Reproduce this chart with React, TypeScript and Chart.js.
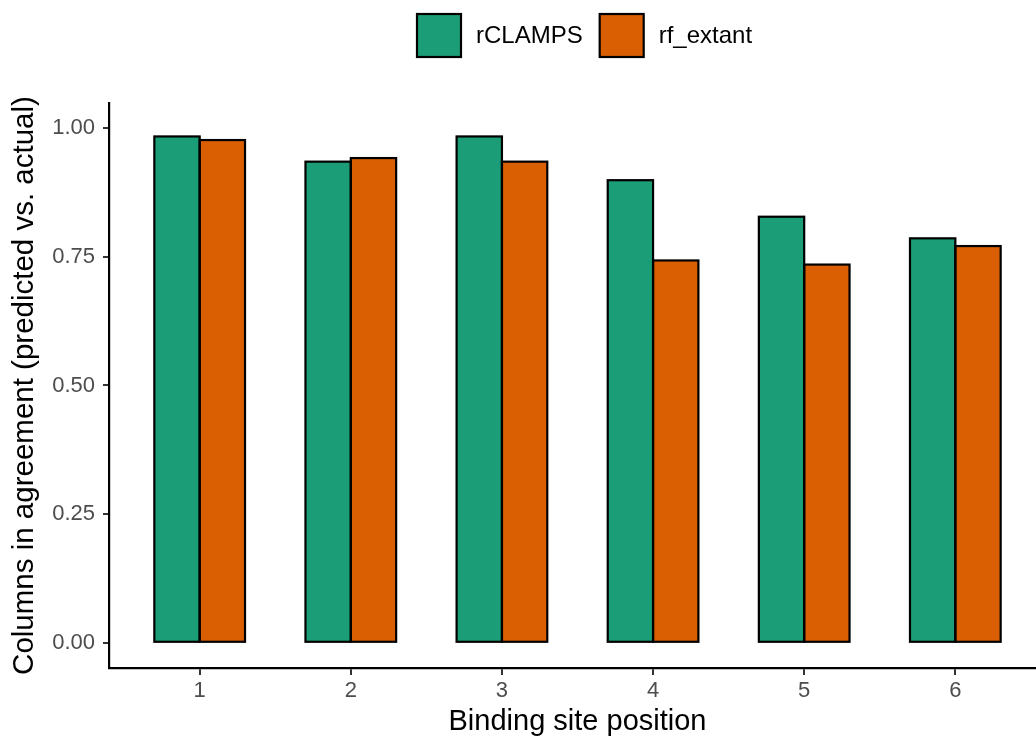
import React, { useEffect, useRef } from "react";
import { Chart, registerables } from "chart.js";

Chart.register(...registerables);

const positions = [1, 2, 3, 4, 5, 6];
const rCLAMPS = [0.984, 0.935, 0.984, 0.899, 0.828, 0.786];
const rfExtant = [0.977, 0.942, 0.935, 0.743, 0.735, 0.771];
const yTickValues = [0, 0.25, 0.5, 0.75, 1.0];
const seriesNames = ["rCLAMPS", "rf_extant"];
const seriesColors = ["#1B9E77", "#D95F02"];

const FONT = "'Liberation Sans', Arial, Helvetica, sans-serif";

const legendPlugin = {
  id: "ggLegend",
  afterDraw(chart: any) {
    const ctx = chart.ctx;
    ctx.save();
    ctx.font = `24px ${FONT}`;
    ctx.textBaseline = "middle";
    const boxW = 44;
    const boxH = 43;
    const top = 14;
    let x = 417;
    chart.data.datasets.forEach((ds: any) => {
      ctx.fillStyle = ds.backgroundColor;
      ctx.fillRect(x, top, boxW, boxH);
      ctx.strokeStyle = "#000";
      ctx.lineWidth = 2.2;
      ctx.strokeRect(x, top, boxW, boxH);
      const tx = x + boxW + 15;
      ctx.fillStyle = "#000";
      ctx.fillText(ds.label, tx, top + boxH / 2 + 1);
      x = tx + ctx.measureText(ds.label).width + 17;
    });
    ctx.restore();
  },
};

// ggplot-style outline: stroke centred on each bar's edges
const outlinePlugin = {
  id: "barOutline",
  afterDatasetsDraw(chart: any) {
    const ctx = chart.ctx;
    ctx.save();
    ctx.strokeStyle = "#000";
    ctx.lineWidth = 2.2;
    chart.data.datasets.forEach((_: any, i: number) => {
      const meta = chart.getDatasetMeta(i);
      meta.data.forEach((bar: any) => {
        const { x, y, base, width } = bar.getProps(["x", "y", "base", "width"], true);
        ctx.strokeRect(x - width / 2, Math.min(y, base), width, Math.abs(base - y));
      });
    });
    ctx.restore();
  },
};

export default function App() {
  const ref = useRef<HTMLCanvasElement | null>(null);

  useEffect(() => {
    if (!ref.current) return;
    const seriesValues = [rCLAMPS, rfExtant];
    const chart = new Chart(ref.current, {
      type: "bar",
      data: {
        datasets: seriesNames.map((name, i) => ({
          label: name,
          data: positions.map((p, j) => ({ x: p, y: seriesValues[i][j] })),
          backgroundColor: seriesColors[i],
          borderWidth: 0,
          inflateAmount: 0,
          categoryPercentage: 0.6,
          barPercentage: 1.0,
        })),
      },
      options: {
        responsive: false,
        animation: false,
        layout: { padding: { top: 103, left: 0, right: 0, bottom: 0 } },
        plugins: {
          legend: { display: false },
          tooltip: { enabled: false },
        },
        scales: {
          x: {
            type: "linear",
            offset: false,
            min: 0.4,
            max: 6.6,
            afterBuildTicks: (scale: any) => {
              scale.ticks = positions.map((v) => ({ value: v }));
            },
            afterFit: (scale: any) => {
              scale.height = 72;
            },
            grid: {
              display: true,
              drawOnChartArea: false,
              drawTicks: true,
              tickLength: 7,
              color: "#333333",
              lineWidth: 2,
              offset: false,
            },
            border: { display: true, color: "#000", width: 2.2 },
            ticks: {
              color: "#4D4D4D",
              font: { family: FONT, size: 22 },
              padding: 3,
              maxRotation: 0,
              callback: (v: any) => String(v),
            },
            title: {
              display: true,
              text: "Binding site position",
              color: "#000",
              font: { family: FONT, size: 29 },
              padding: { top: 0, bottom: 1 },
            },
          },
          y: {
            type: "linear",
            min: -0.049,
            max: 1.049,
            afterBuildTicks: (scale: any) => {
              scale.ticks = yTickValues.map((v) => ({ value: v }));
            },
            afterFit: (scale: any) => {
              scale.width = 109;
            },
            grid: {
              display: true,
              drawOnChartArea: false,
              drawTicks: true,
              tickLength: 6,
              color: "#333333",
              lineWidth: 2,
            },
            border: { display: true, color: "#000", width: 2.2 },
            ticks: {
              color: "#4D4D4D",
              font: { family: FONT, size: 22 },
              padding: 8,
              callback: (v: any) => Number(v).toFixed(2),
            },
            title: {
              display: true,
              text: "Columns in agreement (predicted vs. actual)",
              color: "#000",
              font: { family: FONT, size: 29.5 },
              padding: { top: 7, bottom: 0 },
            },
          },
        },
      },
      plugins: [outlinePlugin, legendPlugin],
    } as any);
    return () => chart.destroy();
  }, []);

  return (
    <div style={{ position: "fixed", left: 0, top: 0, width: 1036, height: 740, overflow: "hidden", background: "#fff" }}>
      <canvas ref={ref} width={1046} height={740} style={{ display: "block" }} />
    </div>
  );
}
